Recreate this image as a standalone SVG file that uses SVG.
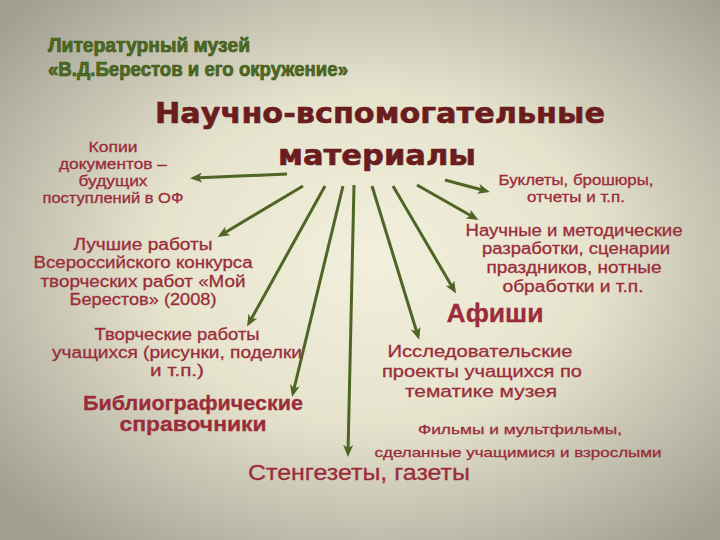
<svg xmlns="http://www.w3.org/2000/svg" width="720" height="540" viewBox="0 0 720 540">
  <defs>
    <radialGradient id="bg" cx="0.52" cy="0.48" r="0.68">
      <stop offset="0" stop-color="#f2efdc"/>
      <stop offset="0.45" stop-color="#e6e3cd"/>
      <stop offset="1" stop-color="#a09e91"/>
    </radialGradient>
    <marker id="ah" markerUnits="userSpaceOnUse" markerWidth="12" markerHeight="10" refX="8" refY="5" orient="auto">
      <path d="M0,0 L12,5 L0,10 L3,5 z" fill="#4f6526"/>
    </marker>
    <style>
      .lbl { font-family: "Liberation Sans", "DejaVu Sans", sans-serif; fill: #9b2d3b; stroke: #9b2d3b; stroke-width: 0.3; text-anchor: middle; }
      .main { font-family: "DejaVu Sans", "Liberation Sans", sans-serif; font-weight: bold; fill: #6b1d1e; stroke: #6b1d1e; stroke-width: 0.6; text-anchor: middle; font-size: 29px; }
      .museum { font-family: "Liberation Sans", "DejaVu Sans", sans-serif; font-weight: bold; fill: #4e6b1f; stroke: #3e5618; stroke-width: 0.7; font-size: 20px; }
      .conn line { stroke: #4f6526; stroke-width: 3; marker-end: url(#ah); }
    </style>
  </defs>
  <rect width="720" height="540" fill="url(#bg)"/>

  <g id="museum-title">
    <text class="museum" x="48" y="52" textLength="202" lengthAdjust="spacingAndGlyphs">Литературный музей</text>
    <text class="museum" x="48" y="76" textLength="300" lengthAdjust="spacingAndGlyphs">«В.Д.Берестов и его окружение»</text>
  </g>

  <g id="center">
    <text class="main" x="380" y="123" textLength="450" lengthAdjust="spacingAndGlyphs">Научно-вспомогательные</text>
    <text class="main" x="377" y="165" textLength="198" lengthAdjust="spacingAndGlyphs">материалы</text>
  </g>

  <g class="conn" id="connectors">
    <line x1="287" y1="174" x2="194" y2="178"/>
    <line x1="445" y1="180" x2="486" y2="191"/>
    <line x1="303" y1="186" x2="221" y2="235"/>
    <line x1="325" y1="186" x2="249" y2="323"/>
    <line x1="343" y1="186" x2="293" y2="393"/>
    <line x1="354" y1="185" x2="348" y2="453"/>
    <line x1="372" y1="186" x2="418" y2="336"/>
    <line x1="393" y1="186" x2="454" y2="290"/>
    <line x1="417" y1="185" x2="475" y2="218"/>
  </g>

  <g id="copies">
    <text class="lbl" font-size="14" x="113" y="152" textLength="49" lengthAdjust="spacingAndGlyphs">Копии</text>
    <text class="lbl" font-size="14" x="113" y="169" textLength="108" lengthAdjust="spacingAndGlyphs">документов –</text>
    <text class="lbl" font-size="14" x="113" y="186" textLength="69" lengthAdjust="spacingAndGlyphs">будущих</text>
    <text class="lbl" font-size="14" x="113" y="203" textLength="141" lengthAdjust="spacingAndGlyphs">поступлений в ОФ</text>
  </g>

  <g id="booklets">
    <text class="lbl" font-size="14" x="576" y="185" textLength="155" lengthAdjust="spacingAndGlyphs">Буклеты, брошюры,</text>
    <text class="lbl" font-size="14" x="576" y="202" textLength="98" lengthAdjust="spacingAndGlyphs">отчеты и т.п.</text>
  </g>

  <g id="best-works">
    <text class="lbl" font-size="16" x="143" y="250" textLength="139" lengthAdjust="spacingAndGlyphs">Лучшие работы</text>
    <text class="lbl" font-size="16" x="143" y="268" textLength="219" lengthAdjust="spacingAndGlyphs">Всероссийского конкурса</text>
    <text class="lbl" font-size="16" x="143" y="287" textLength="205" lengthAdjust="spacingAndGlyphs">творческих работ «Мой</text>
    <text class="lbl" font-size="16" x="143" y="305" textLength="147" lengthAdjust="spacingAndGlyphs">Берестов» (2008)</text>
  </g>

  <g id="methodical">
    <text class="lbl" font-size="16" x="574" y="236" textLength="217" lengthAdjust="spacingAndGlyphs">Научные и методические</text>
    <text class="lbl" font-size="16" x="576" y="254" textLength="188" lengthAdjust="spacingAndGlyphs">разработки, сценарии</text>
    <text class="lbl" font-size="16" x="574" y="273" textLength="175" lengthAdjust="spacingAndGlyphs">праздников, нотные</text>
    <text class="lbl" font-size="16" x="573" y="292" textLength="141" lengthAdjust="spacingAndGlyphs">обработки и т.п.</text>
  </g>

  <g id="posters">
    <text class="lbl" font-size="26" font-weight="bold" x="495" y="322" textLength="97" lengthAdjust="spacingAndGlyphs">Афиши</text>
  </g>

  <g id="creative-works">
    <text class="lbl" font-size="16" x="177" y="340" textLength="165" lengthAdjust="spacingAndGlyphs">Творческие работы</text>
    <text class="lbl" font-size="16" x="177" y="358" textLength="250" lengthAdjust="spacingAndGlyphs">учащихся (рисунки, поделки</text>
    <text class="lbl" font-size="16" x="177" y="376" textLength="54" lengthAdjust="spacingAndGlyphs">и т.п.)</text>
  </g>

  <g id="bibliography">
    <text class="lbl" font-size="21" font-weight="bold" x="193" y="410" textLength="220" lengthAdjust="spacingAndGlyphs">Библиографические</text>
    <text class="lbl" font-size="21" font-weight="bold" x="193" y="431" textLength="147" lengthAdjust="spacingAndGlyphs">справочники</text>
  </g>

  <g id="research">
    <text class="lbl" font-size="17" x="480" y="357" textLength="185" lengthAdjust="spacingAndGlyphs">Исследовательские</text>
    <text class="lbl" font-size="17" x="482" y="377" textLength="200" lengthAdjust="spacingAndGlyphs">проекты учащихся по</text>
    <text class="lbl" font-size="17" x="481" y="397" textLength="152" lengthAdjust="spacingAndGlyphs">тематике музея</text>
  </g>

  <g id="films">
    <text class="lbl" font-size="13" x="520" y="434" textLength="204" lengthAdjust="spacingAndGlyphs">Фильмы и мультфильмы,</text>
    <text class="lbl" font-size="13" x="518" y="457" textLength="287" lengthAdjust="spacingAndGlyphs">сделанные учащимися и взрослыми</text>
  </g>

  <g id="newspapers">
    <text class="lbl" font-size="22" x="359" y="480" textLength="222" lengthAdjust="spacingAndGlyphs">Стенгезеты, газеты</text>
  </g>
</svg>
